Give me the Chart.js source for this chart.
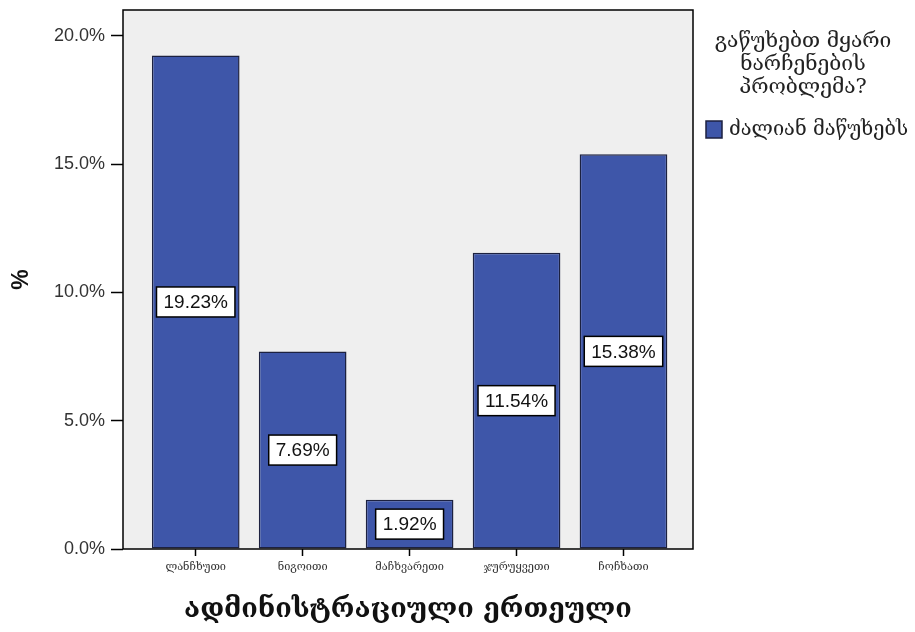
<!DOCTYPE html>
<html>
<head>
<meta charset="utf-8">
<script src="https://cdn.jsdelivr.net/npm/chart.js@4"></script>
<style>
  html, body { margin: 0; padding: 0; background: #ffffff; }
  #wrap { width: 915px; height: 632px; }
</style>
</head>
<body>
<div id="wrap"><canvas id="myChart" width="915" height="632"></canvas></div>
<script>
var districts = ['ლანჩხუთი', 'ნიგოითი', 'მაჩხვარეთი', 'ჯურუყვეთი', 'ჩოჩხათი'];
var percentVeryMuch = [19.23, 7.69, 1.92, 11.54, 15.38];
var yTicks = [0, 5, 10, 15, 20];
var legendTitle = ['გაწუხებთ მყარი', 'ნარჩენების', 'პრობლემა?'];
var seriesLabel = 'ძალიან მაწუხებს';
var xTitle = 'ადმინისტრაციული ერთეული';

var barBlue = '#3e56a9';
var barEdge = '#1c2140';

function makePoints(){
    var pts = [];
    for ( var i = 0; i < percentVeryMuch.length; i++ ){
        pts.push({ x: i, y: percentVeryMuch[i] });
    }
    return pts;
}

// grey plot box behind the bars
var plotBox = {
    id: 'plotBox',
    beforeDatasetsDraw: function(chart){
        var a = chart.chartArea, ctx = chart.ctx;
        ctx.save();
        ctx.fillStyle = '#efefef';
        ctx.fillRect(a.left, a.top, a.right - a.left, a.bottom - a.top);
        ctx.restore();
    },
    afterDraw: function(chart){
        var a = chart.chartArea, ctx = chart.ctx;
        ctx.save();
        ctx.strokeStyle = '#000';
        ctx.lineWidth = 1.5;
        ctx.strokeRect(a.left, a.top, a.right - a.left, a.bottom - a.top);
        ctx.restore();
    }
};

// white value boxes in the middle of each bar
var valueBoxes = {
    id: 'valueBoxes',
    afterDatasetsDraw: function(chart){
        var ctx = chart.ctx;
        var meta = chart.getDatasetMeta(0);
        ctx.save();
        ctx.font = '19px "Liberation Sans", Arial, sans-serif';
        ctx.textAlign = 'center';
        ctx.textBaseline = 'middle';
        meta.data.forEach(function(bar, i){
            var txt = percentVeryMuch[i].toFixed(2) + '%';
            var w = ctx.measureText(txt).width + 14;
            var h = 30;
            var cy = (bar.y + bar.base) / 2;
            ctx.fillStyle = '#fff';
            ctx.fillRect(bar.x - w / 2, cy - h / 2, w, h);
            ctx.strokeStyle = '#000';
            ctx.lineWidth = 1.5;
            ctx.strokeRect(bar.x - w / 2, cy - h / 2, w, h);
            ctx.fillStyle = '#111';
            ctx.fillText(txt, bar.x, cy + 1);
        });
        ctx.restore();
    }
};

// legend on the right: three line title and one item
var sideLegend = {
    id: 'sideLegend',
    afterDraw: function(chart){
        var ctx = chart.ctx;
        ctx.save();
        ctx.font = '21px "DejaVu Serif", serif';
        ctx.fillStyle = '#222';
        ctx.textAlign = 'center';
        ctx.textBaseline = 'middle';
        for ( var i = 0; i < legendTitle.length; i++ ){
            ctx.fillText(legendTitle[i], 803, 42 + i * 23);
        }
        ctx.fillStyle = barBlue;
        ctx.fillRect(706, 121, 16, 17);
        ctx.strokeStyle = barEdge;
        ctx.lineWidth = 1.5;
        ctx.strokeRect(706, 121, 16, 17);
        ctx.fillStyle = '#222';
        ctx.textAlign = 'left';
        ctx.font = '20px "DejaVu Serif", serif';
        ctx.fillText(seriesLabel, 729, 130);
        ctx.restore();
    }
};

new Chart(document.getElementById('myChart').getContext('2d'), {
    type: 'bar',
    data: {
        datasets: [{
            label: seriesLabel,
            data: makePoints(),
            backgroundColor: barBlue,
            borderColor: barEdge,
            borderWidth: 1.5,
            borderSkipped: false,
            barPercentage: 0.82,
            categoryPercentage: 1.0
        }]
    },
    options: {
        responsive: false,
        animation: false,
        layout: { padding: { top: 10, right: 222, left: 0, bottom: 0 } },
        plugins: {
            legend: { display: false },
            tooltip: { enabled: false }
        },
        scales: {
            x: {
                type: 'linear',
                offset: false,
                min: -0.68,
                max: 4.65,
                afterFit: function(s){ s.height = 83; s.paddingLeft = 0; s.paddingRight = 0; },
                afterBuildTicks: function(s){
                    s.ticks = districts.map(function(d, i){ return { value: i }; });
                },
                ticks: {
                    includeBounds: false,
                    autoSkip: false,
                    maxRotation: 0,
                    padding: 5,
                    color: '#333',
                    font: { family: '"DejaVu Serif", serif', size: 11 },
                    callback: function(v){ return districts[v]; }
                },
                grid: { offset: false, drawOnChartArea: false, tickLength: 7, color: '#000', tickWidth: 1.5 },
                border: { display: false },
                title: {
                    display: true,
                    text: xTitle,
                    color: '#111',
                    font: { family: '"DejaVu Serif", serif', size: 27, weight: 'bold' },
                    padding: { top: 0, bottom: 6 }
                }
            },
            y: {
                min: 0,
                max: 21,
                afterFit: function(s){ s.width = 123; s.paddingTop = 0; s.paddingBottom = 0; },
                afterBuildTicks: function(s){
                    s.ticks = yTicks.map(function(v){ return { value: v }; });
                },
                ticks: {
                    includeBounds: false,
                    padding: 6,
                    color: '#333',
                    font: { family: '"Liberation Sans", Arial, sans-serif', size: 18 },
                    callback: function(v){ return v.toFixed(1) + '%'; }
                },
                grid: { drawOnChartArea: false, tickLength: 12, color: '#000', tickWidth: 1.5 },
                border: { display: false },
                title: {
                    display: true,
                    text: '%',
                    color: '#111',
                    font: { family: '"Liberation Sans", Arial, sans-serif', size: 23, weight: 'bold' },
                    padding: { top: 8, bottom: 0 }
                }
            }
        }
    },
    plugins: [plotBox, valueBoxes, sideLegend]
});
</script>
</body>
</html>
